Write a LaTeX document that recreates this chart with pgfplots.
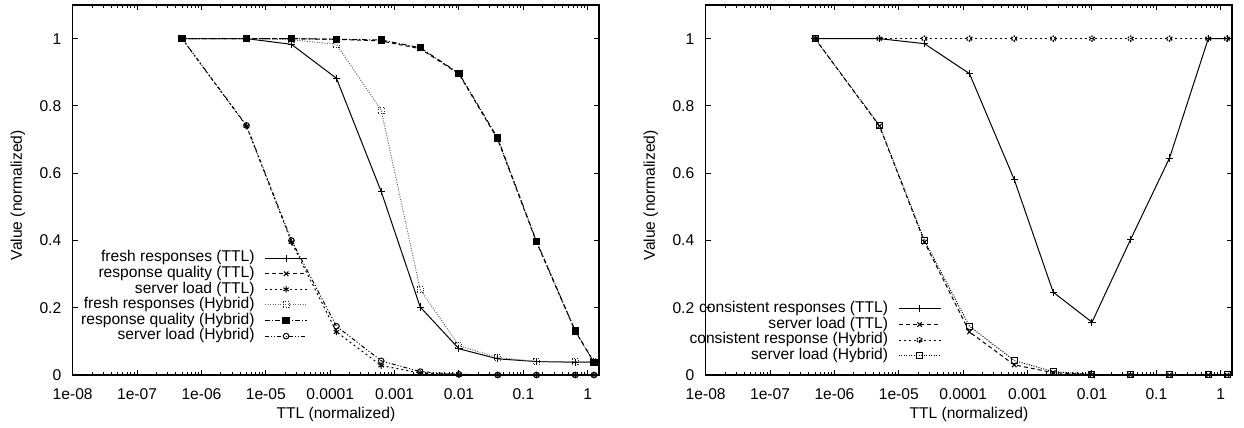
\documentclass[border=0pt]{standalone}
\usepackage{fontspec}
\setmainfont{Liberation Sans}
\usepackage{pgfplots}
\pgfplotsset{compat=1.18}

% gnuplot-like dash types
\tikzset{
  lt1/.style={solid},
  lt2/.style={dash pattern=on 2pt off 1.5pt},
  lt3/.style={dash pattern=on 1pt off 1.5pt},
  lt4/.style={dash pattern=on 0.5pt off 0.75pt},
  lt5/.style={dash pattern=on 2.5pt off 1pt on 0.5pt off 1pt},
  lt6/.style={dash pattern=on 2pt off 1pt on 0.5pt off 1pt on 0.5pt off 1pt},
}

\pgfplotsset{
  legend image code/.code={\draw[mark repeat=2,mark phase=2,#1]
      plot coordinates {(0pt,0pt) (10.5pt,0pt) (21pt,0pt)};},
  gp/.style={
    scale only axis, width=263.2pt, height=185pt, anchor=south west,
    xmin=1e-8, xmax=1.5, ymin=0, ymax=1.1,
    font=\fontsize{7.8}{9.3}\selectfont,
    axis line style={line width=0.8pt},
    tick style={black, line width=0.5pt},
    major tick length=2.5pt, minor tick length=1.5pt,
    xtick={1e-8,1e-7,1e-6,1e-5,1e-4,1e-3,1e-2,1e-1,1},
    xticklabels={1e-08,1e-07,1e-06,1e-05,0.0001,0.001,0.01,0.1,1},
    minor xtick={2e-8,3e-8,4e-8,5e-8,6e-8,7e-8,8e-8,9e-8,
                 2e-7,3e-7,4e-7,5e-7,6e-7,7e-7,8e-7,9e-7,
                 2e-6,3e-6,4e-6,5e-6,6e-6,7e-6,8e-6,9e-6,
                 2e-5,3e-5,4e-5,5e-5,6e-5,7e-5,8e-5,9e-5,
                 2e-4,3e-4,4e-4,5e-4,6e-4,7e-4,8e-4,9e-4,
                 2e-3,3e-3,4e-3,5e-3,6e-3,7e-3,8e-3,9e-3,
                 2e-2,3e-2,4e-2,5e-2,6e-2,7e-2,8e-2,9e-2,
                 0.2,0.3,0.4,0.5,0.6,0.7,0.8,0.9},
    ytick={0,0.2,0.4,0.6,0.8,1},
    yticklabels={0,0.2,0.4,0.6,0.8,1},
    xticklabel style={yshift=-3.4pt},
    yticklabel style={xshift=-2.2pt},
    xlabel={TTL (normalized)}, ylabel={Value (normalized)},
    xlabel style={at={(axis description cs:0.5,-0.108)}, anchor=center},
    ylabel style={at={(axis description cs:-0.104,0.486)}, anchor=center},
    every axis plot/.append style={line width=0.5pt, black, mark options={solid}},
    legend plot pos=right, legend cell align=right,
    legend style={draw=none, fill=none, inner sep=0pt, column sep=5pt, row sep=0pt,
      font=\fontsize{7.8}{9.3}\selectfont,
      nodes={inner sep=0pt, text height=5.8pt, text depth=2pt}},
  },
}

\begin{document}
\begin{tikzpicture}
\begin{axis}[xmode=log, gp, at={(36.35pt,26.5pt)},
  legend style={at={(0.447,0.338)}, anchor=north east}]
\addplot[lt1, mark=+, mark size=1.8pt] coordinates {
 (5e-7,1) (5e-6,1) (2.5e-5,0.983) (1.25e-4,0.882) (6.2e-4,0.545) (2.5e-3,0.202)
 (0.01,0.078) (0.04,0.048) (0.16,0.040) (0.64,0.038) (1.25,0.038)};
\addlegendentry{fresh responses (TTL)}
\addplot[lt2, mark=x, mark size=1.6pt] coordinates {
 (5e-7,1) (5e-6,1) (2.5e-5,1) (1.25e-4,0.998) (6.2e-4,0.993) (2.5e-3,0.970)
 (0.01,0.895) (0.04,0.700) (0.16,0.395) (0.64,0.130) (1.25,0.038)};
\addlegendentry{response quality (TTL)}
\addplot[lt3, mark=asterisk, mark size=1.6pt] coordinates {
 (5e-7,1) (5e-6,0.740) (2.5e-5,0.395) (1.25e-4,0.128) (6.2e-4,0.028) (2.5e-3,0.006)
 (0.01,0.001) (0.04,0) (0.16,0) (0.64,0) (1.25,0)};
\addlegendentry{server load (TTL)}
\addplot[lt4, black!60, mark=square, mark size=1.5pt, mark options={black!85}] coordinates {
 (5e-7,1) (5e-6,1) (2.5e-5,0.997) (1.25e-4,0.983) (6.2e-4,0.787) (2.5e-3,0.254)
 (0.01,0.087) (0.04,0.052) (0.16,0.040) (0.64,0.039) (1.25,0.039)};
\addlegendentry{fresh responses (Hybrid)}
\addplot[lt5, mark=square*, mark size=1.6pt] coordinates {
 (5e-7,1) (5e-6,1) (2.5e-5,1) (1.25e-4,0.998) (6.2e-4,0.996) (2.5e-3,0.973)
 (0.01,0.897) (0.04,0.704) (0.16,0.397) (0.64,0.131) (1.25,0.038)};
\addlegendentry{response quality (Hybrid)}
\addplot[lt6, mark=o, mark size=1.4pt] coordinates {
 (5e-7,1) (5e-6,0.742) (2.5e-5,0.400) (1.25e-4,0.145) (6.2e-4,0.042) (2.5e-3,0.010)
 (0.01,0.002) (0.04,0) (0.16,0) (0.64,0) (1.25,0)};
\addlegendentry{server load (Hybrid)}
\end{axis}

\begin{axis}[xmode=log, gp, at={(352.85pt,26.5pt)},
  legend style={at={(0.448,0.201)}, anchor=north east}]
\addplot[lt1, mark=+, mark size=1.8pt] coordinates {
 (5e-7,1) (5e-6,1) (2.5e-5,0.985) (1.25e-4,0.896) (6.2e-4,0.581) (2.5e-3,0.246)
 (0.01,0.157) (0.04,0.404) (0.16,0.645) (0.64,1) (1.25,1)};
\addlegendentry{consistent responses (TTL)}
\addplot[lt2, mark=x, mark size=1.6pt] coordinates {
 (5e-7,1) (5e-6,0.740) (2.5e-5,0.395) (1.25e-4,0.128) (6.2e-4,0.030) (2.5e-3,0.007)
 (0.01,0.001) (0.04,0) (0.16,0) (0.64,0) (1.25,0)};
\addlegendentry{server load (TTL)}
\addplot[lt3, mark=asterisk, mark size=1.6pt, mark options={line width=0.7pt}] coordinates {
 (5e-7,1) (5e-6,1) (2.5e-5,1) (1.25e-4,1) (6.2e-4,1) (2.5e-3,1)
 (0.01,1) (0.04,1) (0.16,1) (0.64,1) (1.25,1)};
\addlegendentry{consistent response (Hybrid)}
\addplot[lt4, mark=square, mark size=1.5pt] coordinates {
 (5e-7,1) (5e-6,0.742) (2.5e-5,0.400) (1.25e-4,0.145) (6.2e-4,0.043) (2.5e-3,0.010)
 (0.01,0.002) (0.04,0) (0.16,0) (0.64,0) (1.25,0)};
\addlegendentry{server load (Hybrid)}
\end{axis}
\pgfresetboundingbox
\path (0pt,0pt) rectangle (622pt,214pt);
\end{tikzpicture}
\end{document}
